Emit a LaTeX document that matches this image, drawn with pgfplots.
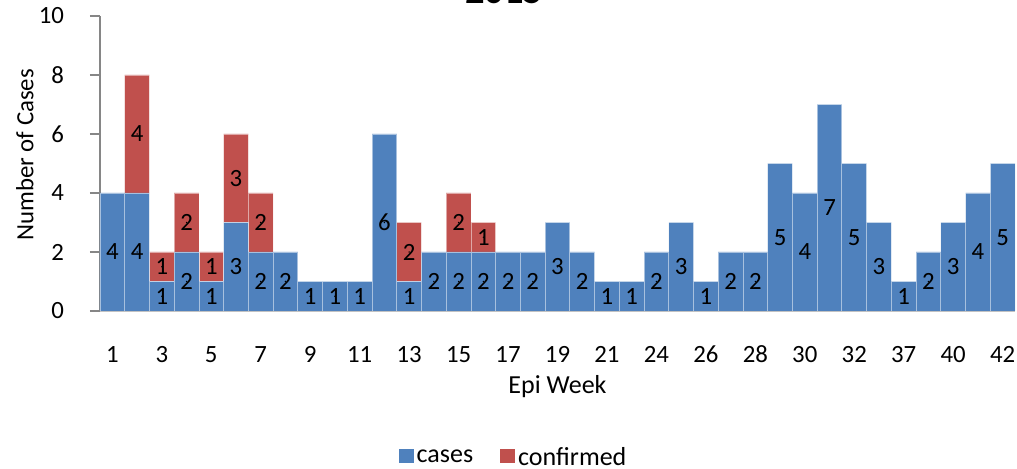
\documentclass[border=0pt]{standalone}
\usepackage{pgfplots}
\pgfplotsset{compat=1.18}
\usepackage{fontspec}
\setmainfont{Carlito}
\definecolor{casesblue}{HTML}{4F81BD}
\definecolor{confred}{HTML}{C0504D}
\definecolor{axisgray}{HTML}{868686}
\newcommand\chartfont{\fontsize{12.4}{14}\selectfont}
\newcommand\labelfont{\fontsize{13}{15}\selectfont}

\begin{document}
\begin{tikzpicture}
\pgfplotsset{
  chartbox/.style={
    at={(0,0)}, anchor=south west,
    scale only axis, width=457.5pt, height=147.5pt,
    xmin=-0.5, xmax=36.5, ymin=0, ymax=10,
  }
}
% bars: epi weeks 1..21, 22, 24..33, 37, 38, 40..42 at positions 0..36
\begin{axis}[chartbox,
  ybar stacked, bar width=12.365pt,
  axis lines*=left,
  axis line style={axisgray, line width=0.75pt},
  xtick={0,2,...,36},
  xticklabels={1,3,5,7,9,11,13,15,17,19,21,24,26,28,30,32,37,40,42},
  ytick={0,2,...,10},
  x tick style={draw=none},
  y tick style={axisgray, line width=0.75pt},
  tick align=outside, major tick length=5pt,
  ticklabel style={font=\chartfont},
  /pgf/number format/assume math mode=true,
  xticklabel style={anchor=base, yshift=-21pt},
  yticklabel style={anchor=east, xshift=-9.5pt},
  xlabel={Epi Week}, ylabel={Number of Cases},
  every axis x label/.style={at={(axis description cs:0.5,-0.278)}, anchor=base, font=\labelfont},
  every axis y label/.style={at={(axis description cs:-0.082,0.529)}, anchor=center, rotate=90, font=\chartfont},
  legend columns=2,
  legend style={at={(axis description cs:0.4525,-0.497)}, anchor=center, draw=none,
    font=\labelfont, nodes={inner sep=1.5pt},
    /tikz/every even column/.append style={column sep=12pt}},
  legend image code/.code={\fill[#1, draw=none] (0pt,-2.5pt) rectangle (7.5pt,4.5pt);},
  clip=false,
]
\addplot[fill=casesblue, draw=white, draw opacity=0.5, line width=0.4pt] coordinates {
  (0,4) (1,4) (2,1) (3,2) (4,1) (5,3) (6,2) (7,2) (8,1) (9,1) (10,1) (11,6)
  (12,1) (13,2) (14,2) (15,2) (16,2) (17,2) (18,3) (19,2) (20,1) (21,1) (22,2)
  (23,3) (24,1) (25,2) (26,2) (27,5) (28,4) (29,7) (30,5) (31,3) (32,1) (33,2)
  (34,3) (35,4) (36,5)};
\addlegendentry{cases}
\addplot[fill=confred, draw=white, draw opacity=0.5, line width=0.4pt] coordinates {
  (0,0) (1,4) (2,1) (3,2) (4,1) (5,3) (6,2) (7,0) (8,0) (9,0) (10,0) (11,0)
  (12,2) (13,0) (14,2) (15,1) (16,0) (17,0) (18,0) (19,0) (20,0) (21,0) (22,0)
  (23,0) (24,0) (25,0) (26,0) (27,0) (28,0) (29,0) (30,0) (31,0) (32,0) (33,0)
  (34,0) (35,0) (36,0)};
\addlegendentry{confirmed}
\end{axis}
% value labels, centred in each segment
\begin{axis}[chartbox, hide axis,
  nodes near coords, point meta=explicit symbolic,
  every node near coord/.append style={anchor=center, font=\chartfont, inner sep=0pt, text=black}]
\addplot[only marks, mark=*, mark size=0.1pt, mark options={draw=none, fill=none}] coordinates {
  (0,2) [4] (1,2) [4] (2,0.5) [1] (3,1) [2] (4,0.5) [1] (5,1.5) [3] (6,1) [2]
  (7,1) [2] (8,0.5) [1] (9,0.5) [1] (10,0.5) [1] (11,3) [6] (12,0.5) [1]
  (13,1) [2] (14,1) [2] (15,1) [2] (16,1) [2] (17,1) [2] (18,1.5) [3] (19,1) [2]
  (20,0.5) [1] (21,0.5) [1] (22,1) [2] (23,1.5) [3] (24,0.5) [1] (25,1) [2]
  (26,1) [2] (27,2.5) [5] (28,2) [4] (29,3.5) [7] (30,2.5) [5] (31,1.5) [3]
  (32,0.5) [1] (33,1) [2] (34,1.5) [3] (35,2) [4] (36,2.5) [5]};
\addplot[only marks, mark=*, mark size=0.1pt, mark options={draw=none, fill=none}] coordinates {
  (1,6) [4] (2,1.5) [1] (3,3) [2] (4,1.5) [1] (5,4.5) [3] (6,3) [2]
  (12,2) [2] (14,3) [2] (15,2.5) [1]};
\end{axis}
\node[font=\bfseries\fontsize{19.2}{22}\selectfont, anchor=base] at (202pt,153.5pt) {2015};
\pgfresetboundingbox
\useasboundingbox (-50pt,-79pt) rectangle (458.5pt,155.5pt);
\end{tikzpicture}
\end{document}
